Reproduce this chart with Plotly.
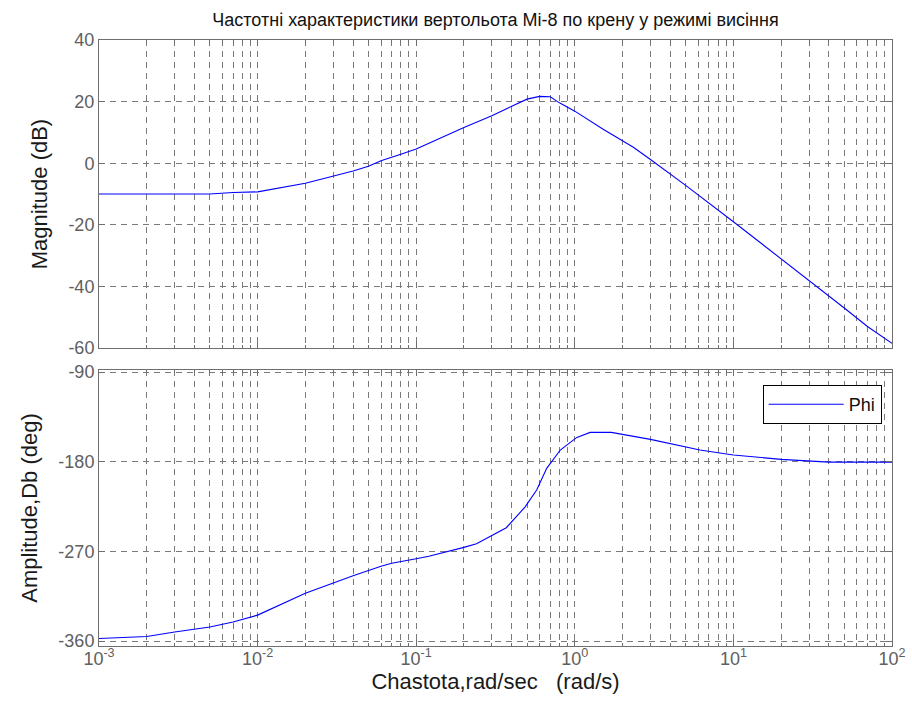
import plotly.graph_objects as go

# ---- data ----
freq_mag = [0.001, 0.002, 0.003, 0.005, 0.007, 0.01, 0.02, 0.03, 0.04, 0.05, 0.06, 0.08, 0.1,
            0.2, 0.24, 0.3, 0.4, 0.5, 0.6, 0.7, 0.8, 1.0, 1.5, 2.0, 2.34, 3.0, 4.6, 5.0,
            10, 20, 30, 50, 70, 100]
mag_db = [-10, -10, -10, -10, -9.5, -9.3, -6.5, -4.2, -2.5, -1.0, 0.8, 2.9, 4.6,
          11.6, 13.2, 15.4, 18.5, 20.8, 21.7, 21.6, 19.6, 16.9, 11.1, 7.3, 5.2, 1.2, -5.7, -7.2,
          -19, -31, -38, -47, -53, -58.5]

freq_ph = [0.001, 0.002, 0.003, 0.005, 0.007, 0.01, 0.02, 0.03, 0.04, 0.06, 0.07, 0.1, 0.12,
           0.2, 0.24, 0.3, 0.37, 0.485, 0.575, 0.665, 0.81, 1.03, 1.25, 1.7, 3.0, 6.15,
           10, 20, 40, 100]
phase_deg = [-357.5, -355.5, -351, -346, -341, -334, -312, -301.5, -294.5, -285, -282, -277.5, -275,
             -266, -262.4, -254, -246.3, -225.6, -208.5, -186.7, -168.3, -155.6, -150.6, -150.6,
             -157.6, -168.3, -173.3, -177.7, -180.4, -180.4]

x_major = [1e-3, 1e-2, 1e-1, 1e0, 1e1, 1e2]
x_major_text = ["10<sup>-3</sup>", "10<sup>-2</sup>", "10<sup>-1</sup>",
                "10<sup>0</sup>", "10<sup>1</sup>", "10<sup>2</sup>"]
mag_ticks = [-60, -40, -20, 0, 20, 40]
mag_tick_text = ["-60", "-40", "-20", "0", "20", "40"]
phase_ticks = [-360, -270, -180, -90]
phase_tick_text = ["-360", "-270", "-180", "-90"]

title_text = "Частотні характеристики вертольота Mi-8 по крену у режимі висіння"
mag_label = "Magnitude (dB)"
phase_label = "Amplitude,Db (deg)"
x_label = "Chastota,rad/sec   (rad/s)"
legend_name = "Phi"

# ---- styling ----
x_minor = [k * 10.0 ** e for e in range(-3, 2) for k in range(2, 10)]
FONT = "Liberation Sans, Arial, sans-serif"
GRID = "#7a7a7a"
AXC = "#6e6e6e"
TICKC = "#606060"
DASH = "6px,5px"

fig = go.Figure()
fig.add_trace(go.Scatter(x=freq_mag, y=mag_db, mode="lines", line=dict(color="#0000ff", width=1.1),
                         xaxis="x", yaxis="y", showlegend=False))
fig.add_trace(go.Scatter(x=freq_ph, y=phase_deg, mode="lines", line=dict(color="#0000ff", width=1.1),
                         xaxis="x2", yaxis="y2", name=legend_name, showlegend=True))

common_x = dict(type="log", range=[-3, 2], tickmode="array", tickvals=x_major, automargin=False,
                ticks="inside", ticklen=6, tickcolor=AXC, showline=True, linecolor=AXC, linewidth=1,
                mirror="ticks", showgrid=True, gridcolor=GRID, griddash=DASH, gridwidth=1,
                minor=dict(tickmode="array", tickvals=x_minor, ticks="inside", ticklen=3,
                           tickcolor=AXC, showgrid=True, gridcolor=GRID, griddash=DASH, gridwidth=1),
                zeroline=False, tickfont=dict(family=FONT, size=18, color=TICKC))
common_y = dict(ticks="inside", ticklen=6, tickcolor=AXC, showline=True, linecolor=AXC, linewidth=1,
                mirror="ticks", showgrid=True, gridcolor=GRID, griddash=DASH, gridwidth=1, automargin=False,
                zeroline=False, tickfont=dict(family=FONT, size=18, color=TICKC), tickmode="array")

fig.update_layout(
    width=912, height=725,
    margin=dict(l=99, r=20, t=40, b=79),
    paper_bgcolor="white", plot_bgcolor="white",
    font=dict(family=FONT),
    title=dict(text=title_text, x=0.5, xref="paper", xanchor="center",
               y=1 - 20 / 725, yref="container", yanchor="middle", automargin=False,
               font=dict(family=FONT, size=18, color="#111111")),
    xaxis=dict(common_x, domain=[0, 1], anchor="y", showticklabels=False, matches="x2"),
    xaxis2=dict(common_x, domain=[0, 1], anchor="y2", ticktext=x_major_text, ticklabelstandoff=-4,
                title=dict(text=x_label, font=dict(family=FONT, size=22, color="#1a1a1a"), standoff=4)),
    yaxis=dict(common_y, domain=[0.4917, 1], anchor="x", range=[-60, 40], tickvals=mag_ticks,
               ticktext=mag_tick_text,
               title=dict(text=mag_label, font=dict(family=FONT, size=22, color="#1a1a1a"), standoff=14)),
    yaxis2=dict(common_y, domain=[0, 0.4554], anchor="x2", range=[-365, -88], tickvals=phase_ticks,
                ticktext=phase_tick_text,
                title=dict(text=phase_label, font=dict(family=FONT, size=22, color="#1a1a1a"), standoff=14)),
    legend=dict(x=0.987, xanchor="right", y=0.4307, yanchor="top", xref="paper", yref="paper",
                bordercolor="#000000", borderwidth=1, bgcolor="white",
                font=dict(family=FONT, size=18, color="#111111"), itemwidth=75),
)

fig.write_html("out.html")
